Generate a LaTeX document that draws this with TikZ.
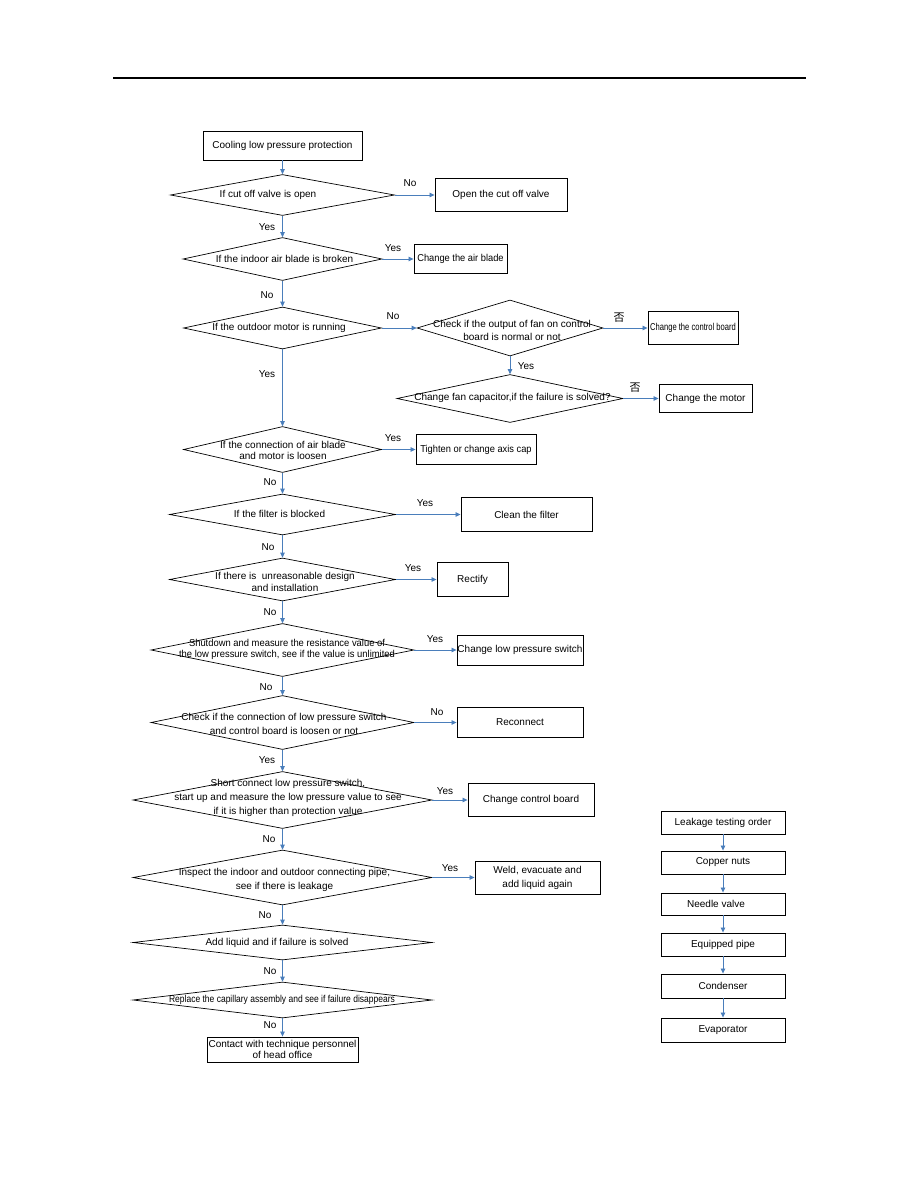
\documentclass[tikz,border=0pt]{standalone}
\usepackage{fontspec}
\setmainfont{Liberation Sans}
\newfontfamily\cjkfont{Noto Sans CJK SC}
\usepackage{graphicx}
\usetikzlibrary{shapes.geometric,arrows.meta}
\definecolor{arrowblue}{RGB}{74,126,187}
\newcommand{\cx}[2]{\scalebox{#1}[1]{#2}}
\begin{document}
\begin{tikzpicture}[x=1pt,y=-1pt,
  box/.style={draw,line width=0.9pt,rectangle,inner sep=0pt,align=center,font=\fontsize{10}{12}\selectfont},
  dia/.style={draw,line width=0.7pt,diamond,inner sep=0pt},
  dtext/.style={inner sep=0pt,align=center,font=\fontsize{10}{12}\selectfont},
  lbl/.style={inner sep=0pt,font=\fontsize{10}{12}\selectfont},
  cjklbl/.style={inner sep=0pt,font=\cjkfont\fontsize{11}{12}\selectfont},
  arr/.style={draw=arrowblue,line width=0.8pt,-{Triangle[length=5pt,width=4.5pt]}}
]
\useasboundingbox (0,0) rectangle (918,1188);
% header rule
\draw[line width=1.2pt] (113,78) -- (806,78);

% ---- main column boxes ----
\node[box,minimum width=159,minimum height=29] (b0) at (282.5,145.5) {Cooling low pressure protection};
\node[box,minimum width=132,minimum height=33] (b1) at (501,195) {Open the cut off valve};
\node[box,minimum width=93,minimum height=29] (b2) at (460.5,259) {\cx{0.93}{Change the air blade}};
\node[box,minimum width=90,minimum height=33] (b3) at (693,328) {\cx{0.76}{Change the control board}};
\node[box,minimum width=93,minimum height=28] (b4) at (705.5,398.5) {Change the motor};
\node[box,minimum width=120,minimum height=30] (b5) at (476,449.5) {\cx{0.93}{Tighten or change axis cap}};
\node[box,minimum width=131,minimum height=34] (b6) at (526.5,514.5) {Clean the filter};
\node[box,minimum width=71,minimum height=34] (b7) at (472.5,579.5) {Rectify};
\node[box,minimum width=126,minimum height=30] (b8) at (520,650) {Change low pressure switch};
\node[box,minimum width=126,minimum height=30] (b9) at (520,722.5) {Reconnect};
\node[box,minimum width=126,minimum height=33] (b10) at (531,800) {Change control board};
\node[box,minimum width=125,minimum height=33,font=\fontsize{10}{14}\selectfont] (b11) at (537.5,877.5) {Weld, evacuate and\\add liquid again};
\node[box,minimum width=151,minimum height=25,font=\fontsize{10}{11}\selectfont] (b12) at (282.5,1049.5) {Contact with technique personnel\\of head office};

% ---- diamonds ----
\node[dia,minimum width=224,minimum height=41] (d1) at (282.5,195) {};
\node[dia,minimum width=199,minimum height=43] (d2) at (282.5,259) {};
\node[dia,minimum width=198,minimum height=42] (d3) at (282.5,328) {};
\node[dia,minimum width=186,minimum height=56] (d4) at (510,328) {};
\node[dia,minimum width=226,minimum height=48] (d5) at (510,398.5) {};
\node[dia,minimum width=198,minimum height=46] (d6) at (282.5,449.5) {};
\node[dia,minimum width=226,minimum height=41] (d7) at (282.5,514.5) {};
\node[dia,minimum width=226,minimum height=43] (d8) at (282.5,579.5) {};
\node[dia,minimum width=263,minimum height=53] (d9) at (282.5,650) {};
\node[dia,minimum width=263,minimum height=54] (d10) at (282.5,722.5) {};
\node[dia,minimum width=299,minimum height=57] (d11) at (282.5,800) {};
\node[dia,minimum width=299,minimum height=55] (d12) at (282.5,877.5) {};
\node[dia,minimum width=299,minimum height=35] (d13) at (282.5,942.5) {};
\node[dia,minimum width=299,minimum height=36] (d14) at (282.5,1000) {};

% ---- diamond texts ----
\node[dtext] (t1) at (268,195) {If cut off valve is open};
\node[dtext] (t2) at (284.5,259) {If the indoor air blade is broken};
\node[dtext] (t3) at (279,328) {If the outdoor motor is running};
\node[dtext,font=\fontsize{10}{13}\selectfont] (t4) at (512,330.5) {Check if the output of fan on control\\board is normal or not};
\node[dtext] (t5) at (512.5,398) {Change fan capacitor,if the failure is solved?};
\node[dtext,font=\fontsize{10}{11}\selectfont] (t6) at (283,450.5) {If the connection of air blade\\and motor is loosen};
\node[dtext] (t7) at (279.5,514) {If the filter is blocked};
\node[dtext,font=\fontsize{10}{12}\selectfont] (t8) at (285,582) {If there is\ \ unreasonable design\\and installation};
\node[dtext,font=\fontsize{10}{11}\selectfont] (t9) at (287,649.5) {\cx{0.94}{Shutdown and measure the resistance value of}\\\cx{0.94}{the low pressure switch, see if the value is unlimited}};
\node[dtext,font=\fontsize{10}{14}\selectfont] (t10) at (284,724) {Check if the connection of low pressure switch\\and control board is loosen or not};
\node[dtext,font=\fontsize{10}{14}\selectfont] (t11) at (288,798) {Short connect low pressure switch,\\start up and measure the low pressure value to see\\if it is higher than protection value};
\node[dtext,font=\fontsize{10}{14}\selectfont] (t12) at (284.5,880) {Inspect the indoor and outdoor connecting pipe,\\see if there is leakage};
\node[dtext] (t13) at (277,943) {Add liquid and if failure is solved};
\node[dtext] (t14) at (282,1000) {\cx{0.85}{Replace the capillary assembly and see if failure disappears}};

% ---- leakage testing order column ----
\node[box,minimum width=124,minimum height=23] (k1) at (723,822.5) {Leakage testing order};
\node[box,minimum width=124,minimum height=23] (k2) at (723,862.5) {Copper nuts};
\node[box,minimum width=124,minimum height=22] (k3) at (723,904) {\hspace*{-14pt}Needle valve};
\node[box,minimum width=124,minimum height=23] (k4) at (723,944.5) {Equipped pipe};
\node[box,minimum width=124,minimum height=24] (k5) at (723,986) {Condenser};
\node[box,minimum width=124,minimum height=24] (k6) at (723,1030) {Evaporator};

% ---- connectors ----
\draw[arr] (b0.south) -- (d1.north);
\draw[arr] (d1.east) -- (b1.west);
\draw[arr] (d1.south) -- (d2.north);
\draw[arr] (d2.east) -- (b2.west);
\draw[arr] (d2.south) -- (d3.north);
\draw[arr] (d3.east) -- (d4.west);
\draw[arr] (d4.east) -- (b3.west);
\draw[arr] (d4.south) -- (d5.north);
\draw[arr] (d5.east) -- (b4.west);
\draw[arr] (d3.south) -- (d6.north);
\draw[arr] (d6.east) -- (b5.west);
\draw[arr] (d6.south) -- (d7.north);
\draw[arr] (d7.east) -- (b6.west);
\draw[arr] (d7.south) -- (d8.north);
\draw[arr] (d8.east) -- (b7.west);
\draw[arr] (d8.south) -- (d9.north);
\draw[arr] (d9.east) -- (b8.west);
\draw[arr] (d9.south) -- (d10.north);
\draw[arr] (d10.east) -- (b9.west);
\draw[arr] (d10.south) -- (d11.north);
\draw[arr] (d11.east) -- (b10.west);
\draw[arr] (d11.south) -- (d12.north);
\draw[arr] (d12.east) -- (b11.west);
\draw[arr] (d12.south) -- (d13.north);
\draw[arr] (d13.south) -- (d14.north);
\draw[arr] (d14.south) -- (b12.north);
\draw[arr] (k1.south) -- (k2.north);
\draw[arr] (k2.south) -- (k3.north);
\draw[arr] (k3.south) -- (k4.north);
\draw[arr] (k4.south) -- (k5.north);
\draw[arr] (k5.south) -- (k6.north);

% ---- connector labels ----
\node[lbl] (l1) at (410,183) {No};
\node[lbl] (l2) at (267,227) {Yes};
\node[lbl] (l3) at (393,248) {Yes};
\node[lbl] (l4) at (267,295) {No};
\node[lbl] (l5) at (393,316) {No};
\node[lbl] (l6) at (267,374) {Yes};
\node[cjklbl] (l7) at (619,318) {否};
\node[lbl] (l8) at (526,366) {Yes};
\node[cjklbl] (l9) at (635,388) {否};
\node[lbl] (l10) at (393,438) {Yes};
\node[lbl] (l11) at (270,482) {No};
\node[lbl] (l12) at (425,503) {Yes};
\node[lbl] (l13) at (268,547) {No};
\node[lbl] (l14) at (413,568) {Yes};
\node[lbl] (l15) at (270,612) {No};
\node[lbl] (l16) at (435,639) {Yes};
\node[lbl] (l17) at (266,687) {No};
\node[lbl] (l18) at (437,712) {No};
\node[lbl] (l19) at (267,760) {Yes};
\node[lbl] (l20) at (445,791) {Yes};
\node[lbl] (l21) at (269,839) {No};
\node[lbl] (l22) at (450,868) {Yes};
\node[lbl] (l23) at (265,915) {No};
\node[lbl] (l24) at (270,971) {No};
\node[lbl] (l25) at (270,1025) {No};
\end{tikzpicture}
\end{document}
